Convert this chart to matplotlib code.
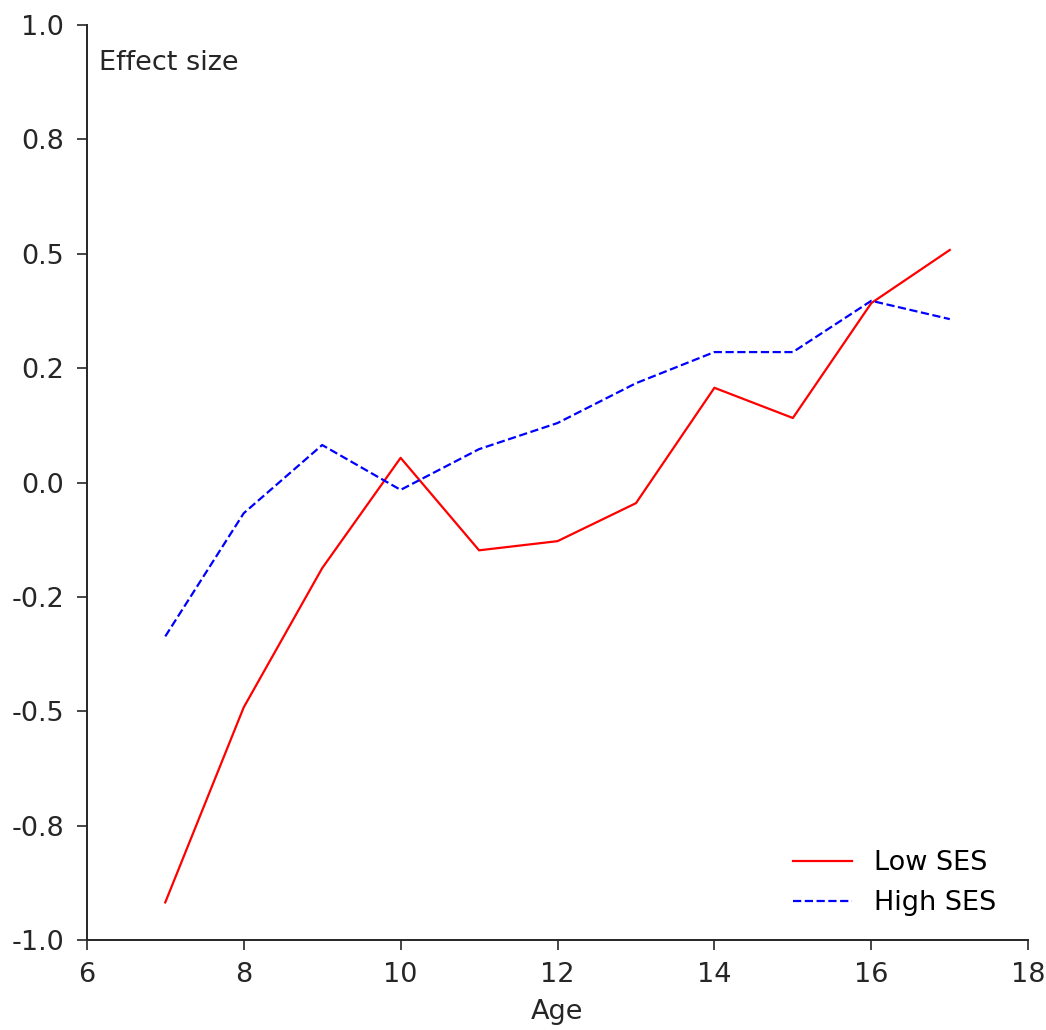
import matplotlib
matplotlib.use("Agg")
import matplotlib.pyplot as plt
import numpy as np
from matplotlib.ticker import FormatStrFormatter

plt.rcParams["axes.unicode_minus"] = False
plt.rcParams["font.family"] = "DejaVu Sans"

ages = [7, 8, 9, 10, 11, 12, 13, 14, 15, 16, 17]
low_ses = [-0.917, -0.491, -0.187, 0.054, -0.148, -0.128, -0.045, 0.207, 0.141, 0.392, 0.508]
high_ses = [-0.336, -0.067, 0.082, -0.016, 0.073, 0.130, 0.217, 0.285, 0.285, 0.397, 0.357]

x_ticks = [6, 8, 10, 12, 14, 16, 18]
y_ticks = np.arange(-1.0, 1.01, 0.25)

fs = 19.5
ink = "#262626"

fig = plt.figure(figsize=(10.46, 10.30), dpi=100)
ax = fig.add_axes([0.083, 0.087, 0.900, 0.889])

ax.plot(ages, low_ses, color="red", linewidth=1.6, label="Low SES")
ax.plot(ages, high_ses, color="blue", linewidth=1.6, linestyle="--", label="High SES")

ax.set_xlim(6, 18)
ax.set_ylim(-1.0, 1.0)
ax.set_xticks(x_ticks)
ax.set_yticks(y_ticks)
ax.yaxis.set_major_formatter(FormatStrFormatter("%.1f"))
ax.tick_params(labelsize=fs, length=7.5, width=1.2, colors=ink)
ax.tick_params(axis="y", pad=9)
ax.tick_params(axis="x", pad=8)
for side in ["top", "right"]:
    ax.spines[side].set_visible(False)
for side in ["left", "bottom"]:
    ax.spines[side].set_linewidth(1.4)
    ax.spines[side].set_color(ink)

ax.set_xlabel("Age", fontsize=fs, color=ink, labelpad=8)
ax.text(0.013, 0.972, "Effect size", transform=ax.transAxes, fontsize=fs,
        va="top", ha="left", color=ink)

ax.legend(loc="lower right", frameon=False, fontsize=fs, handlelength=2.2,
          bbox_to_anchor=(0.992, 0.0))

fig.savefig("out.png", dpi=100)
